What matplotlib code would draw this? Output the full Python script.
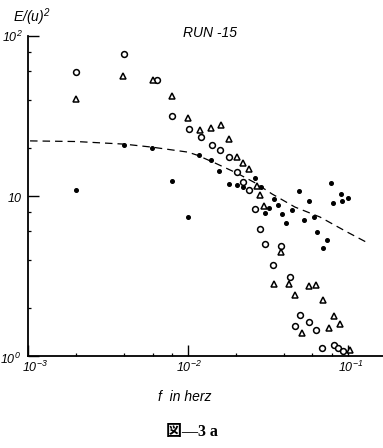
import matplotlib
matplotlib.use("Agg")
import matplotlib.pyplot as plt
from matplotlib.ticker import LogLocator, NullFormatter, FixedLocator

plt.rcParams['mathtext.fontset'] = 'custom'
plt.rcParams['mathtext.rm'] = 'Liberation Sans:italic'
plt.rcParams['mathtext.it'] = 'Liberation Sans:italic'

# ---- data ----
circle_f = [2.00e-3, 4.00e-3, 6.37e-3, 7.98e-3, 1.01e-2, 1.21e-2, 1.41e-2, 1.58e-2, 1.81e-2,
            2.01e-2, 2.21e-2, 2.42e-2, 2.62e-2, 2.82e-2, 3.03e-2, 3.81e-2, 3.41e-2, 4.31e-2,
            5.01e-2, 4.67e-2, 5.70e-2, 6.34e-2, 6.85e-2, 8.15e-2, 8.69e-2, 9.35e-2]
circle_E = [59.6, 77.5, 53.1, 31.8, 26.2, 23.3, 20.7, 19.3, 17.5,
            14.1, 12.3, 10.9, 8.33, 6.25, 4.99, 4.85, 3.71, 3.10,
            1.80, 1.55, 1.63, 1.45, 1.12, 1.17, 1.12, 1.08]

tri_f = [2.00e-3, 3.95e-3, 6.01e-3, 7.98e-3, 9.93e-3, 1.19e-2, 1.39e-2, 1.61e-2, 1.81e-2,
         2.01e-2, 2.22e-2, 2.42e-2, 2.69e-2, 2.82e-2, 3.00e-2, 3.81e-2, 3.45e-2, 4.30e-2,
         4.67e-2, 5.68e-2, 6.31e-2, 6.95e-2, 8.15e-2, 8.95e-2, 7.60e-2, 5.14e-2, 1.026e-1]
tri_E = [40.2, 56.2, 53.1, 42.3, 30.9, 25.9, 26.7, 27.6, 22.6,
         17.5, 16.0, 14.8, 11.5, 10.2, 8.66, 4.49, 2.81, 2.83,
         2.40, 2.74, 2.76, 2.25, 1.79, 1.58, 1.49, 1.40, 1.09]

dot_f = [2.00e-3, 3.98e-3, 5.98e-3, 7.98e-3, 1.00e-2, 1.17e-2, 1.39e-2, 1.57e-2, 1.80e-2,
         2.03e-2, 2.22e-2, 2.62e-2, 2.84e-2, 3.01e-2, 3.23e-2, 3.46e-2, 3.66e-2, 3.87e-2,
         4.07e-2, 4.44e-2, 4.95e-2, 5.32e-2, 5.72e-2, 6.15e-2, 6.42e-2, 7.36e-2, 6.93e-2,
         7.80e-2, 9.02e-2, 1.005e-1, 9.17e-2, 8.05e-2]
dot_E = [10.9, 20.8, 20.0, 12.4, 7.34, 18.0, 16.8, 14.4, 11.9,
         11.7, 11.4, 12.9, 11.4, 7.87, 8.38, 9.51, 8.76, 7.69,
         6.75, 8.21, 10.7, 7.05, 9.27, 7.42, 5.98, 5.34, 4.71,
         12.1, 10.3, 9.68, 9.24, 9.08]

curve_f = [1.03e-3, 2.0e-3, 3.98e-3, 5.96e-3, 1.0e-2, 1.14e-2, 1.47e-2, 2.02e-2, 2.62e-2,
           3.35e-2, 4.66e-2, 6.68e-2, 9.86e-2, 1.296e-1]
curve_E = [22.1, 21.9, 21.1, 20.2, 18.8, 18.0, 16.1, 13.9, 12.1,
           10.3, 8.53, 7.39, 5.96, 5.16]

xticks = [1e-3, 1e-2, 1e-1]
xticklabels = [r'$10^{-3}$', r'$10^{-2}$', r'$10^{-1}$']
yticks = [1, 10, 100]
yticklabels = [r'$10^{0}$', r'$10$', r'$10^{2}$']

# ---- figure ----
fig = plt.figure(figsize=(3.83, 4.48), dpi=100)
ax = fig.add_axes([28/383, 92/448, 355/383, 320/448])
ax.set_xscale('log')
ax.set_yscale('log')
ax.set_xlim(1e-3, 0.1655)
ax.set_ylim(1, 100)

ax.plot(curve_f, curve_E, color='black', lw=0.9, dashes=(6, 4), zorder=1)
ax.plot(circle_f, circle_E, ls='none', marker='o', ms=4.2, mfc='white', mec='black', mew=1.1, zorder=3)
ax.plot(tri_f, tri_E, ls='none', marker='^', ms=5.0, mfc='white', mec='black', mew=1.1, zorder=3)
ax.plot(dot_f, dot_E, ls='none', marker='o', ms=2.6, mfc='black', mec='black', zorder=4)

for s in ['top', 'right']:
    ax.spines[s].set_visible(False)
for s in ['left', 'bottom']:
    ax.spines[s].set_linewidth(1.3)

ax.xaxis.set_major_locator(FixedLocator(xticks))
ax.yaxis.set_major_locator(FixedLocator(yticks))
ax.xaxis.set_minor_locator(LogLocator(base=10, subs=[2, 4, 6, 8]))
ax.yaxis.set_minor_locator(LogLocator(base=10, subs=[2, 4, 6, 8]))
ax.xaxis.set_minor_formatter(NullFormatter())
ax.yaxis.set_minor_formatter(NullFormatter())
ax.tick_params(which='major', direction='in', length=8, width=1.0,
               labelbottom=False, labelleft=False)
ax.tick_params(which='minor', direction='in', length=2.5, width=0.9)

# tick labels placed by hand (tick positions through the axes' transforms)
xt = ax.get_xaxis_transform()
x_offsets = [7, 1, 3]
for v, lab, dx in zip(xticks, xticklabels, x_offsets):
    ax.annotate(lab, xy=(v, 0), xycoords=xt, xytext=(dx, -4), textcoords='offset pixels',
                ha='center', va='top', fontsize=9, annotation_clip=False)
yt = ax.get_yaxis_transform()
y_offsets = [(-7, -3), (-5, -2), (-5, -1)]
for v, lab, (dx, dy) in zip(yticks, yticklabels, y_offsets):
    ax.annotate(lab, xy=(0, v), xycoords=yt, xytext=(dx, dy), textcoords='offset pixels',
                ha='right', va='center', fontsize=9, annotation_clip=False)

fig.text(210/383, 1 - 33/448, 'RUN -15', ha='center', va='center',
         fontsize=10, family='Liberation Sans', style='italic')
fig.text(32/383, 1 - 17/448, r'$E/(u)^{2}$', ha='center', va='center', fontsize=10)
fig.text(185/383, 1 - 397/448, 'f  in herz', ha='center', va='center', fontsize=10,
         family='Liberation Sans', style='italic')
fig.text(192/383, 1 - 432/448, '図—3 a', ha='center', va='center', fontsize=11.5,
         family=['Liberation Serif', 'Noto Sans CJK JP'], weight='bold')

fig.savefig('out.png', dpi=100)
